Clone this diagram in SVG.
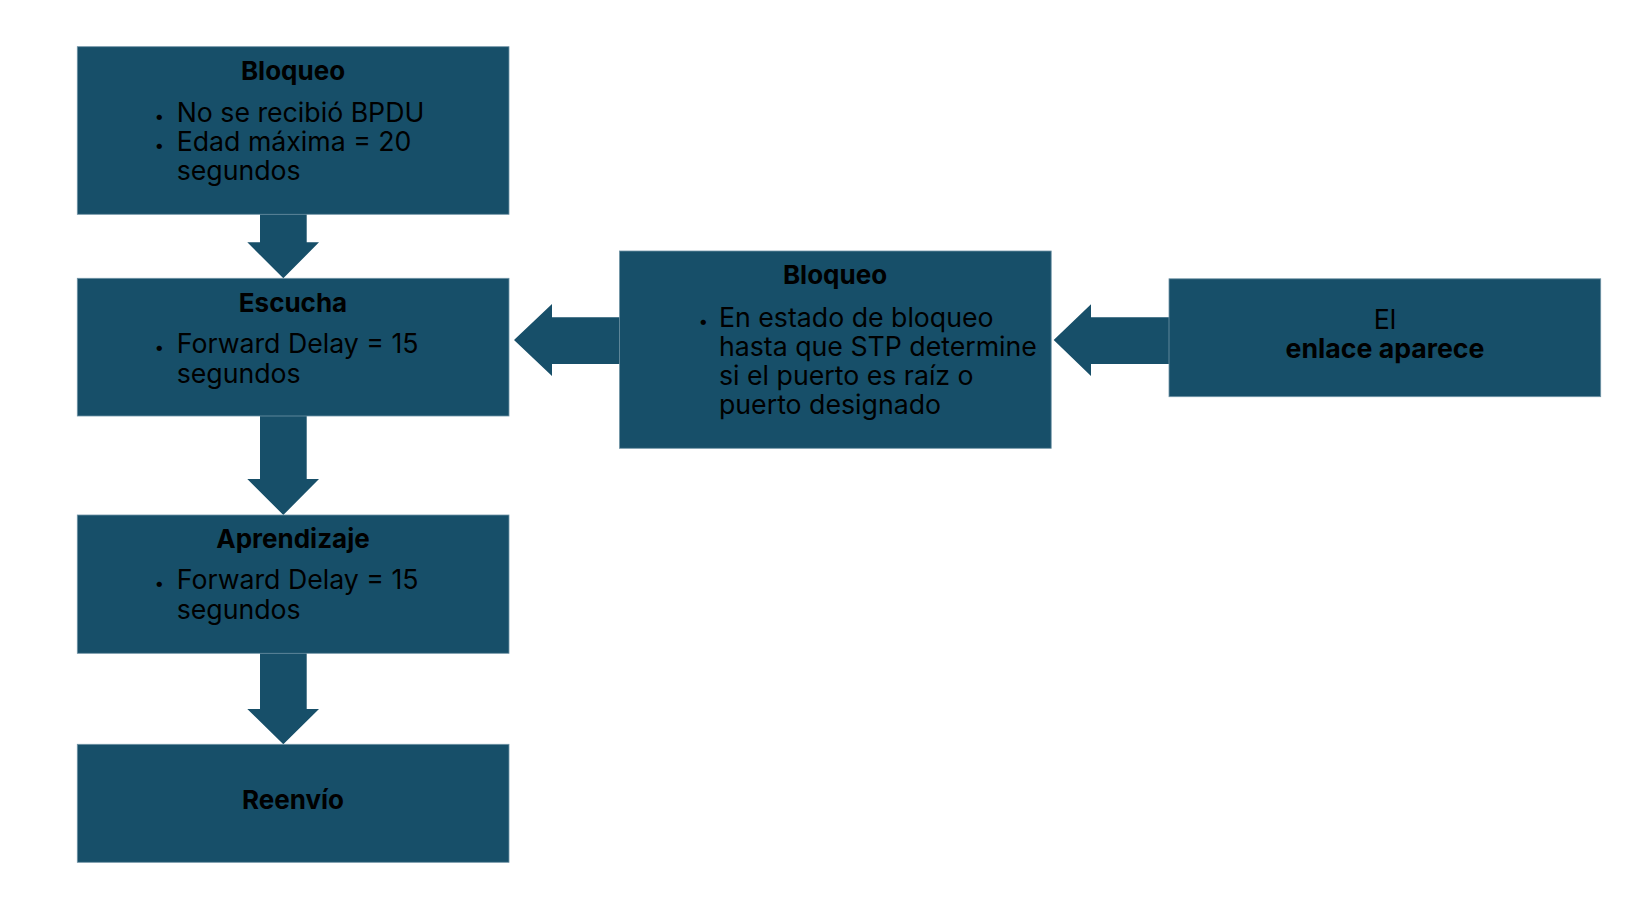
<svg xmlns="http://www.w3.org/2000/svg" width="1637" height="904" viewBox="0 0 1637 904">
<style>
.box{fill:#174f69;stroke:#6f93a5;stroke-width:0.8}
.arr{fill:#174f69}
text{font-family:Inter,"Liberation Sans",sans-serif;fill:#000}
.t{font-size:26px;font-weight:700;text-anchor:middle}
.b{font-size:26.7px}
.d{font-size:17px}
.c{font-size:26.7px;text-anchor:middle}
.cb{font-size:26.7px;font-weight:700;text-anchor:middle}
</style>
<rect width="1637" height="904" fill="#fff"/>
<g id="connectors">
<polygon class="arr" points="260,214 306.7,214 306.7,242.3 319,242.3 283.3,278.3 247.3,242.3 260,242.3"/>
<polygon class="arr" points="260,416 306.7,416 306.7,479 319,479 283.3,515 247.3,479 260,479"/>
<polygon class="arr" points="260,653 306.7,653 306.7,709 319,709 283.3,744.3 247.3,709 260,709"/>
<polygon class="arr" points="620,317.3 552,317.3 552,304 514,340 552,376 552,364 620,364"/>
<polygon class="arr" points="1169,317.3 1091,317.3 1091,304.3 1053.7,340 1091,376 1091,364 1169,364"/>
</g>
<g id="n1">
<rect class="box" x="77.3" y="46.7" width="431.7" height="167.6"/>
<text class="t" x="293" y="80">Bloqueo</text>
<text class="d" x="154.5" y="121.7">•</text>
<text class="b" x="176.7" y="121.7">No se recibió BPDU</text>
<text class="d" x="154.5" y="150.7">•</text>
<text class="b" x="176.7" y="150.7">Edad máxima = 20</text>
<text class="b" x="176.7" y="180">segundos</text>
</g>
<g id="n2">
<rect class="box" x="77.3" y="278.3" width="431.7" height="137.7"/>
<text class="t" x="293" y="311.7">Escucha</text>
<text class="d" x="154.5" y="353.3">•</text>
<text class="b" x="176.7" y="353.3">Forward Delay = 15</text>
<text class="b" x="176.7" y="382.7">segundos</text>
</g>
<g id="n3">
<rect class="box" x="77.3" y="515" width="431.7" height="138.3"/>
<text class="t" x="293" y="548.3">Aprendizaje</text>
<text class="d" x="154.5" y="589.3">•</text>
<text class="b" x="176.7" y="589.3">Forward Delay = 15</text>
<text class="b" x="176.7" y="619">segundos</text>
</g>
<g id="n4">
<rect class="box" x="77.3" y="744.3" width="431.7" height="118"/>
<text class="t" x="293" y="809">Reenvío</text>
</g>
<g id="n5">
<rect class="box" x="619.5" y="251" width="431.7" height="197.3"/>
<text class="t" x="835" y="284">Bloqueo</text>
<text class="d" x="698.5" y="327.3">•</text>
<text class="b" x="719" y="327.3">En estado de bloqueo</text>
<text class="b" x="719" y="356">hasta que STP determine</text>
<text class="b" x="719" y="385">si el puerto es raíz o</text>
<text class="b" x="719" y="414">puerto designado</text>
</g>
<g id="n6">
<rect class="box" x="1169" y="278.8" width="431.7" height="117.9"/>
<text class="c" x="1385" y="329">El</text>
<text class="cb" x="1385" y="358.3">enlace aparece</text>
</g>
</svg>
